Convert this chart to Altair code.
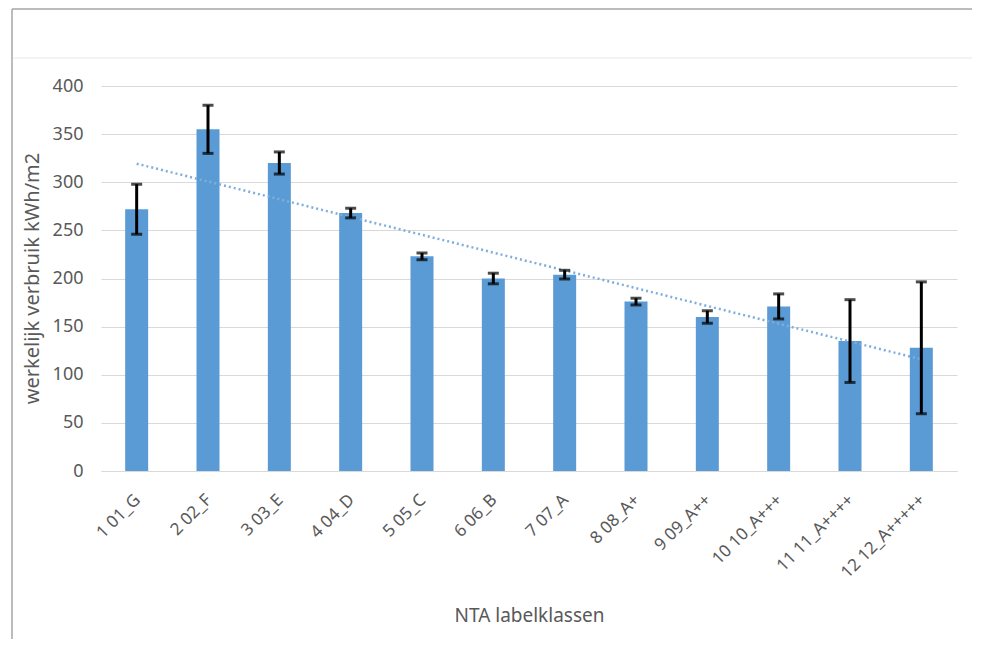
import altair as alt
import pandas as pd
import numpy as np

labels = ["1 01_G", "2 02_F", "3 03_E", "4 04_D", "5 05_C", "6 06_B", "7 07_A",
          "8 08_A+", "9 09_A++", "10 10_A+++", "11 11_A++++", "12 12_A+++++"]
values = [272, 355, 320, 268, 223, 200, 204, 176, 160, 171, 135, 128]
errors = [26, 25, 11.5, 5, 3.5, 5.5, 4.5, 3.5, 6.5, 13, 43, 68.5]

idx = np.arange(1, len(values) + 1)
slope, intercept = np.polyfit(idx, values, 1)
trend = [intercept + slope * i for i in idx]

df = pd.DataFrame({
    "label": labels,
    "value": values,
    "lo": [v - e for v, e in zip(values, errors)],
    "hi": [v + e for v, e in zip(values, errors)],
    "trend": trend,
})

FONT = "Noto Sans"
GRAY = "#595959"

xenc = alt.X("label:N", sort=labels, title="NTA labelklassen",
             scale=alt.Scale(paddingInner=0.68, paddingOuter=0.34),
             axis=alt.Axis(labelAngle=-45, labelAlign="right", labelBaseline="middle",
                           labelPadding=26, labelOffset=1, ticks=False,
                           domainColor="#d9d9d9", domainWidth=1,
                           labelFont=FONT, labelFontSize=17, labelColor=GRAY,
                           titleFont=FONT, titleFontSize=19, titleColor=GRAY,
                           titleFontWeight="normal", titleY=144, titleBaseline="middle",
                           grid=False))

yscale = alt.Scale(domain=[0, 400], nice=False)

bars = alt.Chart(df).mark_bar(color="#5B9BD5", size=23).encode(
    x=xenc,
    y=alt.Y("value:Q", scale=yscale, title="werkelijk verbruik kWh/m2",
            axis=alt.Axis(values=[0, 50, 100, 150, 200, 250, 300, 350, 400],
                          domain=False, ticks=False, labelPadding=18,
                          gridColor="#d9d9d9", gridWidth=1,
                          labelFont=FONT, labelFontSize=18, labelColor=GRAY,
                          titleFont=FONT, titleFontSize=20, titleColor=GRAY,
                          titleFontWeight="normal", titleX=-69, titleY=192,
                          titleAngle=-90, titleAlign="center", titleBaseline="middle")),
)

trend_line = alt.Chart(df).mark_line(color="#7EAEDD", strokeDash=[2, 3], strokeWidth=2.5).encode(
    x=alt.X("label:N", sort=labels),
    y=alt.Y("trend:Q", scale=yscale),
)

err_rule = alt.Chart(df).mark_rule(color="#000000", strokeWidth=3).encode(
    x=alt.X("label:N", sort=labels),
    y=alt.Y("lo:Q", scale=yscale),
    y2="hi:Q",
)
cap_lo = alt.Chart(df).mark_tick(color="#000000", thickness=3, size=11).encode(
    x=alt.X("label:N", sort=labels),
    y=alt.Y("lo:Q", scale=yscale),
)
cap_hi = alt.Chart(df).mark_tick(color="#000000", thickness=3, size=11).encode(
    x=alt.X("label:N", sort=labels),
    y=alt.Y("hi:Q", scale=yscale),
)

one = pd.DataFrame({"a": [0]})
border_left = alt.Chart(one).mark_rule(color="#a6a6a6", strokeWidth=1.5).encode(
    x=alt.value(-89), y=alt.value(-77), y2=alt.value(570))
border_top = alt.Chart(one).mark_rule(color="#a6a6a6", strokeWidth=1.5).encode(
    x=alt.value(-89), x2=alt.value(880), y=alt.value(-77))
faint_top = alt.Chart(one).mark_rule(color="#e8e8e8", strokeWidth=1).encode(
    x=alt.value(-88), x2=alt.value(880), y=alt.value(-28))

chart = alt.layer(bars, trend_line, err_rule, cap_lo, cap_hi,
                  border_left, border_top, faint_top).properties(
    width=856, height=385,
    autosize=alt.AutoSizeParams(type="none"),
    padding={"left": 93, "top": 78, "right": 15, "bottom": 168},
    background="white",
).configure_view(stroke=None)

chart.save("out.html", embed_options={"renderer": "svg", "actions": False})
